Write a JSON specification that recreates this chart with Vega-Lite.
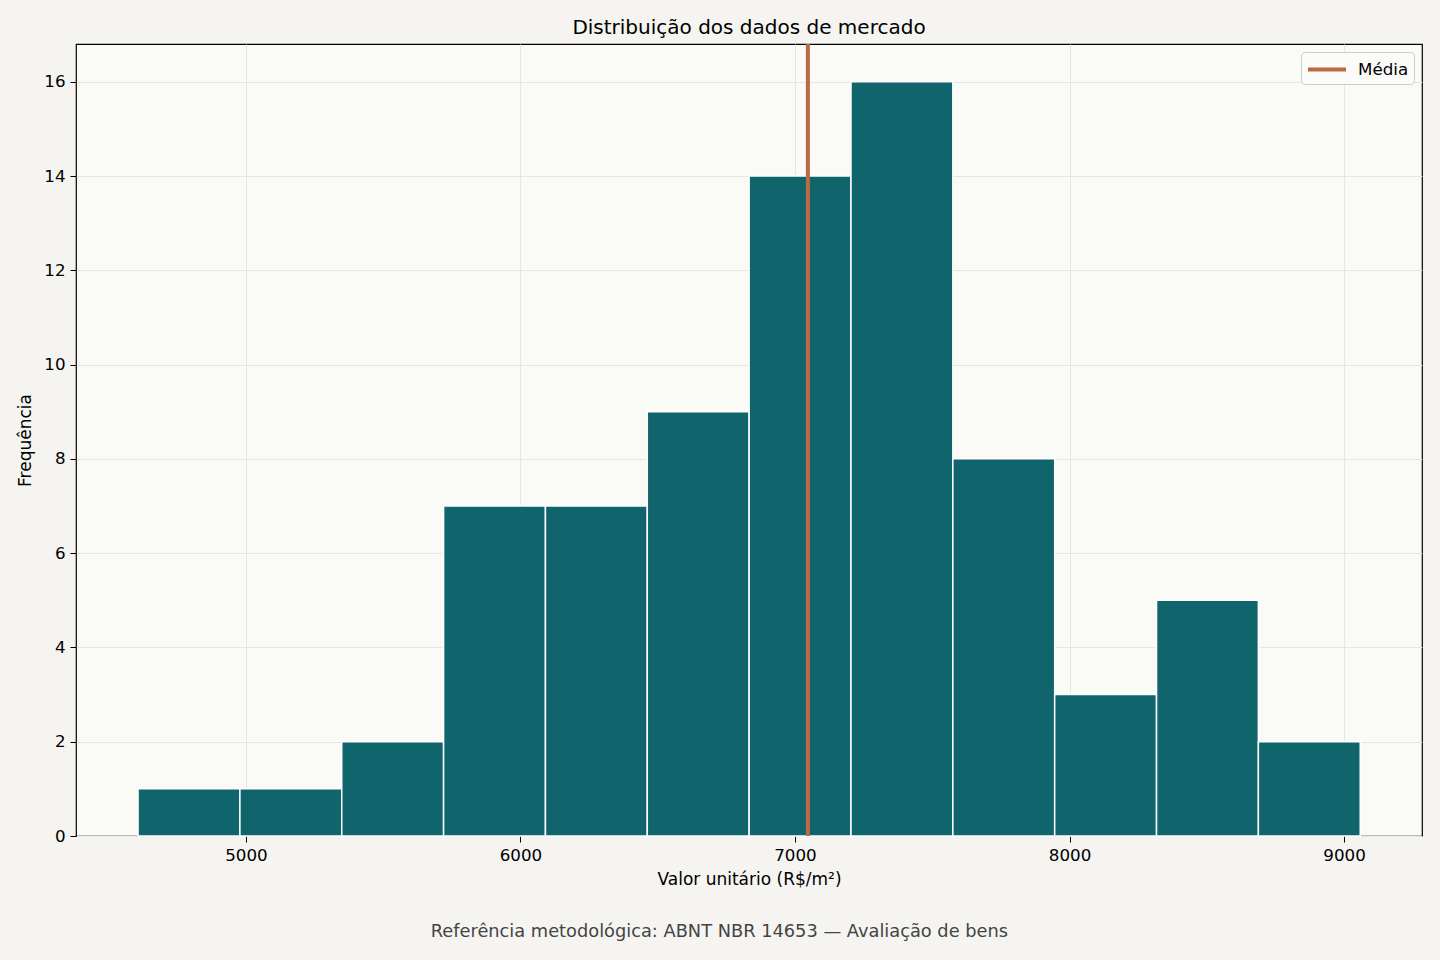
{
  "$schema": "https://vega.github.io/schema/vega-lite/v6.json",
  "description": "Histograma do valor unitário com a média marcada.",
  "background": "#f5f4f0",
  "padding": {"left": 16, "top": 17, "right": 18, "bottom": 19},
  "datasets": {
    "bins": [
      {"inicio": 4607, "fim": 4978, "freq": 1},
      {"inicio": 4978, "fim": 5349, "freq": 1},
      {"inicio": 5349, "fim": 5720, "freq": 2},
      {"inicio": 5720, "fim": 6091, "freq": 7},
      {"inicio": 6091, "fim": 6462, "freq": 7},
      {"inicio": 6462, "fim": 6833, "freq": 9},
      {"inicio": 6833, "fim": 7204, "freq": 14},
      {"inicio": 7204, "fim": 7575, "freq": 16},
      {"inicio": 7575, "fim": 7946, "freq": 8},
      {"inicio": 7946, "fim": 8317, "freq": 3},
      {"inicio": 8317, "fim": 8688, "freq": 5},
      {"inicio": 8688, "fim": 9059, "freq": 2}
    ],
    "media": [
      {"serie": "Média", "valor": 7047}
    ]
  },
  "title": {
    "text": "Referência metodológica: ABNT NBR 14653 — Avaliação de bens",
    "orient": "bottom",
    "anchor": "middle",
    "frame": "bounds",
    "offset": 35,
    "fontSize": 17.8,
    "fontWeight": "normal",
    "color": "#444444"
  },
  "vconcat": [
    {
      "width": 1346,
      "height": 792,
      "title": {
        "text": "Distribuição dos dados de mercado",
        "fontSize": 20,
        "fontWeight": "normal",
        "color": "#000000",
        "offset": 4
      },
      "layer": [
        {
          "data": {"name": "bins"},
          "mark": {"type": "rect", "color": "#10656d", "stroke": "#ffffff", "strokeWidth": 1.5},
          "encoding": {
            "x": {
              "field": "inicio",
              "type": "quantitative",
              "title": "Valor unitário (R$/m²)",
              "scale": {"domain": [4381, 9284], "nice": false, "zero": false},
              "axis": {"values": [5000, 6000, 7000, 8000, 9000], "format": "d"}
            },
            "x2": {"field": "fim"},
            "y": {
              "field": "freq",
              "type": "quantitative",
              "title": "Frequência",
              "scale": {"domain": [0, 16.8], "nice": false},
              "axis": {"values": [0, 2, 4, 6, 8, 10, 12, 14, 16]}
            },
            "y2": {"datum": 0}
          }
        },
        {
          "data": {"name": "media"},
          "mark": {"type": "rule", "strokeWidth": 4},
          "encoding": {
            "x": {"field": "valor", "type": "quantitative"},
            "color": {
              "field": "serie",
              "type": "nominal",
              "title": null,
              "scale": {"domain": ["Média"], "range": ["#bb6b43"]},
              "legend": {
                "orient": "top-right",
                "offset": 8,
                "symbolType": "M-1,0H2.62",
                "symbolSize": 441,
                "symbolStrokeWidth": 4,
                "labelOffset": 27,
                "padding": 5,
                "fillColor": "#fbfbf9",
                "strokeColor": "#cccccc",
                "cornerRadius": 4
              }
            }
          }
        }
      ]
    }
  ],
  "config": {
    "font": "DejaVu Sans",
    "view": {"stroke": "#000000", "strokeWidth": 1.2, "fill": "#fafaf7"},
    "axis": {
      "domain": false,
      "grid": true,
      "gridColor": "#e6e6e2",
      "gridWidth": 1,
      "tickColor": "#000000",
      "tickSize": 6,
      "tickWidth": 1,
      "labelFont": "DejaVu Sans",
      "labelFontSize": 16.7,
      "labelColor": "#000000",
      "titleFont": "DejaVu Sans",
      "titleFontSize": 17,
      "titleFontWeight": "normal",
      "titleColor": "#000000"
    },
    "axisX": {"labelPadding": 5, "titlePadding": 8},
    "axisY": {"labelPadding": 5, "titlePadding": 9},
    "legend": {
      "labelFont": "DejaVu Sans",
      "labelFontSize": 16.7,
      "labelColor": "#000000"
    }
  }
}
